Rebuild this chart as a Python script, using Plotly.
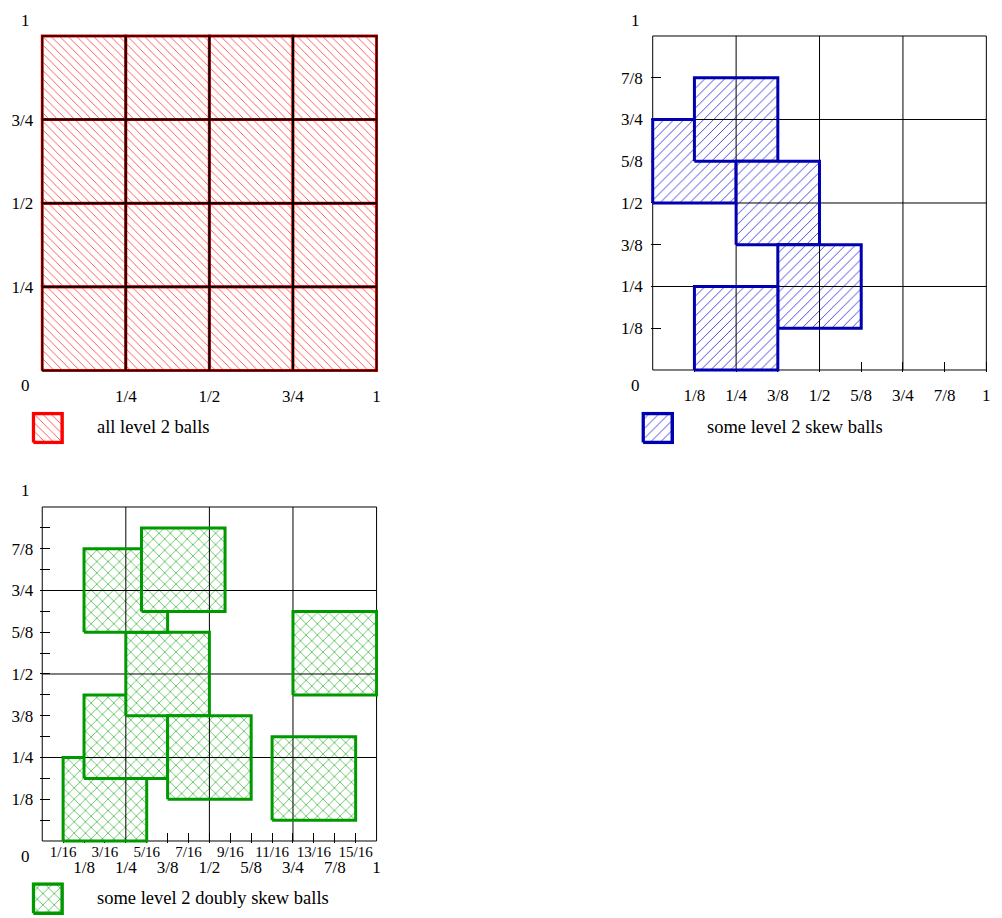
import plotly.graph_objects as go

W, H = 1002, 918
OFF = 8  # page body margin offset of the figure div

# ---------------- data ----------------
SIDE = 0.25  # side length of a level 2 ball

# panel 1: all level 2 balls (lower-left corners)
level2_x0 = [0, 0.25, 0.5, 0.75, 0, 0.25, 0.5, 0.75, 0, 0.25, 0.5, 0.75, 0, 0.25, 0.5, 0.75]
level2_y0 = [0, 0, 0, 0, 0.25, 0.25, 0.25, 0.25, 0.5, 0.5, 0.5, 0.5, 0.75, 0.75, 0.75, 0.75]

# panel 2: some level 2 skew balls (drawing order)
skew_x0 = [0, 0.125, 0.25, 0.375, 0.125]
skew_y0 = [0.5, 0.625, 0.375, 0.125, 0]

# panel 3: some level 2 doubly skew balls (drawing order)
dskew_x0 = [1/16, 1/8, 1/4, 3/8, 1/8, 19/64, 3/4, 11/16]
dskew_y0 = [0, 3/16, 3/8, 1/8, 5/8, 11/16, 7/16, 1/16]

grid_vals = [0.25, 0.5, 0.75]

p1_xticks = [0.25, 0.5, 0.75, 1]
p1_xlabels = ["1/4", "1/2", "3/4", "1"]
p1_yticks = [0.25, 0.5, 0.75]
p1_ylabels = ["1/4", "1/2", "3/4"]

p2_xticks = [1/8, 2/8, 3/8, 4/8, 5/8, 6/8, 7/8, 1]
p2_xlabels = ["1/8", "1/4", "3/8", "1/2", "5/8", "3/4", "7/8", "1"]
p2_yticks = [1/8, 2/8, 3/8, 4/8, 5/8, 6/8, 7/8]
p2_ylabels = ["1/8", "1/4", "3/8", "1/2", "5/8", "3/4", "7/8"]

p3_ticks = [1/16, 2/16, 3/16, 4/16, 5/16, 6/16, 7/16, 8/16, 9/16, 10/16, 11/16, 12/16, 13/16, 14/16, 15/16]
p3_xlabels_top = ["1/16", "", "3/16", "", "5/16", "", "7/16", "", "9/16", "", "11/16", "", "13/16", "", "15/16"]
p3_ylabels = ["", "1/8", "", "1/4", "", "3/8", "", "1/2", "", "5/8", "", "3/4", "", "7/8", ""]
p3_xticks_bottom = [1/8, 2/8, 3/8, 4/8, 5/8, 6/8, 7/8, 1]
p3_xlabels_bottom = ["1/8", "1/4", "3/8", "1/2", "5/8", "3/4", "7/8", "1"]

legend_texts = ["all level 2 balls", "some level 2 skew balls", "some level 2 doubly skew balls"]

# ---------------- styles ----------------
FONT = "Liberation Serif"
FS = 17
FS_SMALL = 15
FS_LEG = 18.5
RED_LINE = "#ff0000"
RED_HATCH = "#ff4a4a"
BLUE_LINE = "#0000b0"
BLUE_HATCH = "#4848dc"
GREEN_LINE = "#009a00"
GREEN_HATCH = "#44b844"

red_pat = dict(shape="\\", fgcolor=RED_HATCH, bgcolor="white", size=6, solidity=0.15, fillmode="replace")
blue_pat = dict(shape="/", fgcolor=BLUE_HATCH, bgcolor="white", size=7, solidity=0.14, fillmode="replace")
green_pat = dict(shape="x", fgcolor=GREEN_HATCH, bgcolor="white", size=8, solidity=0.18, fillmode="replace")

PAD = 0.006


def domx(p0, p1, pad=PAD):
    s = p1 - p0
    return [(p0 - OFF - pad * s) / W, (p1 - OFF + pad * s) / W]


def domy(top, bottom, pad=PAD):
    s = bottom - top
    return [1 - (bottom - OFF + pad * s) / H, 1 - (top - OFF - pad * s) / H]


def pxy(x, y):
    return (x - OFF) / W, 1 - (y - OFF) / H


fig = go.Figure()


def box_path(x0, y0, side):
    return [x0, x0 + side, x0 + side, x0, x0], [y0, y0, y0 + side, y0 + side, y0]


def add_box(x0, y0, side, xa, ya, color, pat, width=3, grid_inside=False):
    xs, ys = box_path(x0, y0, side)
    if not grid_inside:
        fig.add_trace(go.Scatter(
            x=xs, y=ys, mode="lines", fill="toself", fillpattern=pat,
            line=dict(color=color, width=width),
            xaxis=xa, yaxis=ya, showlegend=False, hoverinfo="skip"))
        return
    # fill first
    fig.add_trace(go.Scatter(
        x=xs, y=ys, mode="lines", fill="toself", fillpattern=pat,
        line=dict(color="rgba(0,0,0,0)", width=0),
        xaxis=xa, yaxis=ya, showlegend=False, hoverinfo="skip"))
    # grid lines showing over the fill, inside this ball
    gx, gy = [], []
    for v in grid_vals:
        if x0 < v < x0 + side:
            gx += [v, v, None]
            gy += [y0, y0 + side, None]
        if y0 < v < y0 + side:
            gx += [x0, x0 + side, None]
            gy += [v, v, None]
    if gx:
        fig.add_trace(go.Scatter(
            x=gx, y=gy, mode="lines", line=dict(color="black", width=1),
            xaxis=xa, yaxis=ya, showlegend=False, hoverinfo="skip"))
    # border on top
    fig.add_trace(go.Scatter(
        x=xs, y=ys, mode="lines", line=dict(color=color, width=width),
        xaxis=xa, yaxis=ya, showlegend=False, hoverinfo="skip"))


for x0, y0 in zip(level2_x0, level2_y0):
    add_box(x0, y0, SIDE, "x", "y", RED_LINE, red_pat)
for x0, y0 in zip(skew_x0, skew_y0):
    add_box(x0, y0, SIDE, "x2", "y2", BLUE_LINE, blue_pat, grid_inside=True)
for x0, y0 in zip(dskew_x0, dskew_y0):
    add_box(x0, y0, SIDE, "x3", "y3", GREEN_LINE, green_pat, grid_inside=True)

# invisible anchor trace so the second label row axis of panel 3 gets drawn
fig.add_trace(go.Scatter(x=[0.5], y=[0.5], mode="markers", marker=dict(opacity=0),
                         xaxis="x4", yaxis="y3", showlegend=False, hoverinfo="skip"))

# legend swatches (unit squares in small axes)
SW_PAD = 0.06
add_box(0, 0, 1, "x5", "y5", RED_LINE, red_pat, width=3.5)
add_box(0, 0, 1, "x6", "y6", BLUE_LINE, blue_pat, width=3.5)
add_box(0, 0, 1, "x7", "y7", GREEN_LINE, green_pat, width=3.5)

tf = dict(family=FONT, size=FS, color="black")
tf_small = dict(family=FONT, size=FS_SMALL, color="black")
rng = [-PAD, 1 + PAD]

common = dict(range=rng, showgrid=False, zeroline=False, showline=False,
              layer="below traces", fixedrange=True)
tk = dict(ticks="inside", ticklen=10, tickwidth=1, tickcolor="black")

P1 = (42.3, 377.3, 36, 370.5)
P2 = (654, 988.3, 36, 370)
P3 = (42.3, 377.3, 507, 841)

layout_axes = dict(
    xaxis=dict(domain=domx(P1[0], P1[1]), anchor="y", tickvals=p1_xticks, ticktext=p1_xlabels,
               ticks="", ticklabelstandoff=11, tickfont=tf, **common),
    yaxis=dict(domain=domy(P1[2], P1[3]), anchor="x", tickvals=p1_yticks, ticktext=p1_ylabels,
               ticks="", ticklabelstandoff=6, tickfont=tf, **common),
    xaxis2=dict(domain=domx(P2[0], P2[1]), anchor="y2", tickvals=p2_xticks, ticktext=p2_xlabels,
                ticklabelstandoff=11, tickfont=tf, **tk, **common),
    yaxis2=dict(domain=domy(P2[2], P2[3]), anchor="x2", tickvals=p2_yticks, ticktext=p2_ylabels,
                ticklabelstandoff=7, tickfont=tf, **tk, **common),
    xaxis3=dict(domain=domx(P3[0], P3[1]), anchor="y3", tickvals=p3_ticks, ticktext=p3_xlabels_top,
                ticklabelstandoff=-2, tickfont=tf_small, **tk, **common),
    yaxis3=dict(domain=domy(P3[2], P3[3]), anchor="x3", tickvals=p3_ticks, ticktext=p3_ylabels,
                ticklabelstandoff=6, tickfont=tf, **tk, **common),
    xaxis4=dict(domain=domx(P3[0], P3[1]), anchor="y3", overlaying="x3", side="bottom",
                tickvals=p3_xticks_bottom, ticktext=p3_xlabels_bottom,
                ticks="", ticklabelstandoff=12, tickfont=tf, **common),
)


def swatch_axes(n, left, right, top, bottom):
    return {
        f"xaxis{n}": dict(domain=domx(left, right, SW_PAD), range=[-SW_PAD, 1 + SW_PAD], anchor=f"y{n}",
                          visible=False, fixedrange=True),
        f"yaxis{n}": dict(domain=domy(top, bottom, SW_PAD), range=[-SW_PAD, 1 + SW_PAD], anchor=f"x{n}",
                          visible=False, fixedrange=True),
    }


layout_axes.update(swatch_axes(5, 33.4, 62.3, 413.4, 442.6))
layout_axes.update(swatch_axes(6, 644.4, 673.6, 413.4, 442.6))
layout_axes.update(swatch_axes(7, 33.4, 62.3, 884.0, 913.2))

# grid lines and frames: on top in panel 1, underneath the balls in panels 2 and 3
shapes = []
for xa, ya, gw, fw, lay in [("x", "y", 2, 1.5, "above"), ("x2", "y2", 1, 1, "below"),
                            ("x3", "y3", 1, 1, "below")]:
    for v in grid_vals:
        shapes.append(dict(type="line", xref=xa, yref=ya, x0=v, x1=v, y0=0, y1=1,
                           line=dict(color="black", width=gw), layer=lay))
        shapes.append(dict(type="line", xref=xa, yref=ya, x0=0, x1=1, y0=v, y1=v,
                           line=dict(color="black", width=gw), layer=lay))
    shapes.append(dict(type="rect", xref=xa, yref=ya, x0=0, x1=1, y0=0, y1=1,
                       line=dict(color="black", width=fw), fillcolor="rgba(0,0,0,0)", layer=lay))

annotations = []
# corner labels 0 and 1
for (x, y, t) in [(26, 20.7, "1"), (26, 385, "0"), (637, 20.7, "1"), (637, 385, "0"),
                  (26, 490.7, "1"), (26, 856.7, "0")]:
    ax_, ay_ = pxy(x, y)
    annotations.append(dict(x=ax_, y=ay_, xref="paper", yref="paper", text=t, showarrow=False,
                            xanchor="center", yanchor="middle", font=tf))
# legend texts
leg_font = dict(family=FONT, size=FS_LEG, color="black")
for (x, y), t in zip([(95.5, 427.3), (706, 427.3), (95.5, 898.3)], legend_texts):
    ax_, ay_ = pxy(x, y)
    annotations.append(dict(x=ax_, y=ay_, xref="paper", yref="paper", text=t, showarrow=False,
                            xanchor="left", yanchor="middle", font=leg_font))

fig.update_layout(
    width=W, height=H,
    margin=dict(l=0, r=0, t=0, b=0),
    paper_bgcolor="white", plot_bgcolor="white",
    showlegend=False,
    shapes=shapes,
    annotations=annotations,
    **layout_axes,
)

fig.write_html("out.html")
